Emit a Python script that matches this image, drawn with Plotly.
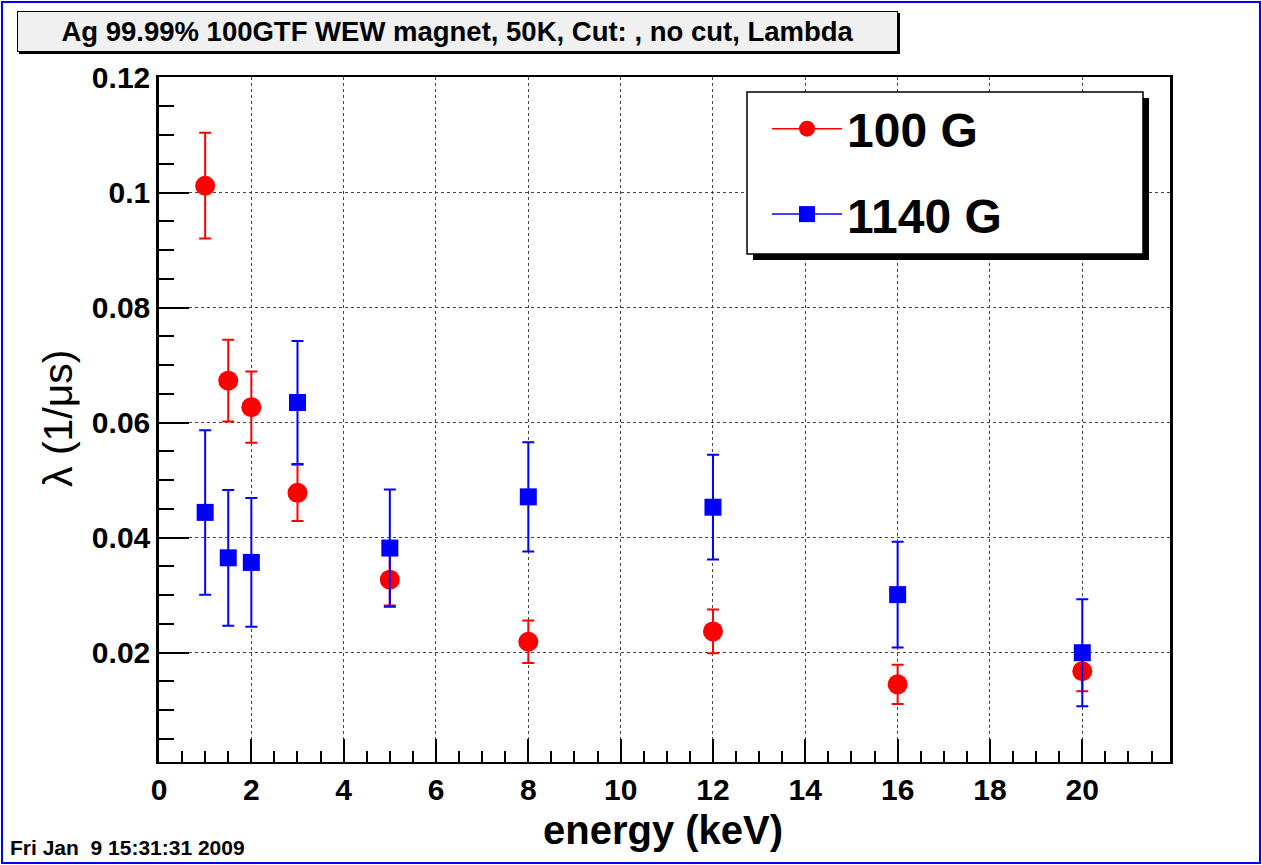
import plotly.graph_objects as go

# ---------------- data ----------------
energy = [1, 1.5, 2, 3, 5, 8, 12, 16, 20]
lam_100G = [0.1012, 0.0673, 0.0627, 0.0478, 0.0327, 0.0219, 0.0237, 0.0145, 0.0168]
err_100G = [0.0092, 0.0071, 0.0062, 0.0049, 0.0045, 0.0037, 0.0038, 0.0034, 0.0035]
lam_1140G = [0.0444, 0.0365, 0.0357, 0.0635, 0.0382, 0.0471, 0.0453, 0.0301, 0.0200]
err_1140G = [0.0143, 0.0118, 0.0112, 0.0107, 0.0102, 0.0095, 0.0091, 0.0092, 0.0093]

series_names = ["100 G", "1140 G"]
series_colors = ["#ff0000", "#0000ff"]

x_ticks = [0, 2, 4, 6, 8, 10, 12, 14, 16, 18, 20]
y_ticks = [0.02, 0.04, 0.06, 0.08, 0.1, 0.12]
y_ticklabels = ["0.02", "0.04", "0.06", "0.08", "0.1", "0.12"]

title_text = "Ag 99.99% 100GTF WEW magnet, 50K, Cut: , no cut, Lambda"
date_text = "Fri Jan&nbsp; 9 15:31:31 2009"

# ---------------- layout geometry ----------------
W, H = 1262, 865
L, R, T, B = 159, 92, 77, 103
PW, PH = W - L - R, H - T - B


def px(x):
    return (x - L) / PW


def py(y):
    return 1 - (y - T) / PH


FONT = "Liberation Sans, Arial, Helvetica, sans-serif"

fig = go.Figure()

# data traces (markers + error bars)
fig.add_trace(go.Scatter(
    x=energy, y=lam_100G, mode="markers", name=series_names[0], showlegend=False,
    marker=dict(symbol="circle", size=20, color=series_colors[0]),
    error_y=dict(type="data", array=err_100G, visible=True,
                 color=series_colors[0], thickness=2, width=6),
))
fig.add_trace(go.Scatter(
    x=energy, y=lam_1140G, mode="markers", name=series_names[1], showlegend=False,
    marker=dict(symbol="square", size=17, color=series_colors[1]),
    error_y=dict(type="data", array=err_1140G, visible=True,
                 color=series_colors[1], thickness=2, width=6),
))
# legend entries (line + marker symbol, like the ROOT "lp" legend)
for name, col, sym, grp in zip(series_names, series_colors, ["circle", "square"], ["a", "b"]):
    fig.add_trace(go.Scatter(
        x=[None], y=[None], mode="lines+markers", name=name, legendgroup=grp,
        line=dict(color=col, width=1.5),
        marker=dict(symbol=sym, size=20, color=col),
    ))

shapes = [
    # outer canvas border
    dict(type="rect", xref="paper", yref="paper",
         x0=px(2), x1=px(1260), y0=py(2), y1=py(863),
         line=dict(color="#0000ff", width=2), fillcolor="rgba(0,0,0,0)", layer="above"),
    # title shadow
    dict(type="rect", xref="paper", yref="paper",
         x0=px(19), x1=px(900), y0=py(13), y1=py(54),
         line=dict(width=0), fillcolor="black", layer="above"),
    # legend shadow
    dict(type="rect", xref="paper", yref="paper",
         x0=px(753), x1=px(1149), y0=py(98), y1=py(260),
         line=dict(width=0), fillcolor="black", layer="above"),
    # legend box
    dict(type="rect", xref="paper", yref="paper",
         x0=px(747), x1=px(1143), y0=py(92), y1=py(254),
         line=dict(color="black", width=1.5), fillcolor="white", layer="above"),
]

annotations = [
    dict(text="<b>" + title_text + "</b>", xref="paper", yref="paper",
         x=px(457), y=py(31), xanchor="center", yanchor="middle", showarrow=False,
         font=dict(family=FONT, size=27.5, color="black"),
         bgcolor="#f0f0f0", bordercolor="black", borderwidth=1, borderpad=0,
         width=879, height=39),
    dict(text="<b>" + date_text + "</b>", xref="paper", yref="paper",
         x=px(8), y=py(848), xanchor="left", yanchor="middle", showarrow=False,
         font=dict(family=FONT, size=21, color="black")),
    dict(text="<b>energy (keV)</b>", xref="paper", yref="paper",
         x=px(663), y=py(830), xanchor="center", yanchor="middle", showarrow=False,
         font=dict(family=FONT, size=40, color="black")),
    dict(text="λ (1/μs)", xref="paper", yref="paper", textangle=-90,
         x=px(58), y=py(418), xanchor="center", yanchor="middle", showarrow=False,
         font=dict(family=FONT, size=41, color="black")),
]

fig.update_layout(
    width=W, height=H, autosize=False,
    margin=dict(l=L, r=R, t=T, b=B, pad=0),
    paper_bgcolor="white", plot_bgcolor="white",
    font=dict(family=FONT, color="black"),
    showlegend=True,
    legend=dict(x=px(767), y=py(91), xanchor="left", yanchor="top",
                bgcolor="rgba(0,0,0,0)", borderwidth=0,
                font=dict(family=FONT, size=48, color="black", weight="bold"),
                tracegroupgap=20, itemsizing="trace", itemwidth=70),
    shapes=shapes,
    annotations=annotations,
)

fig.update_xaxes(
    range=[0, 21.9], tickvals=x_ticks, ticktext=[str(v) for v in x_ticks],
    ticks="inside", ticklen=23, tickwidth=1.5, tickcolor="black",
    showline=True, linecolor="black", linewidth=2, mirror=True,
    showgrid=True, gridcolor="#444444", griddash="dot", gridwidth=1,
    zeroline=False,
    tickfont=dict(family=FONT, size=30, color="black", weight="bold"),
    minor=dict(dtick=0.5, tick0=0, ticks="inside", ticklen=11, tickwidth=1.5,
               tickcolor="black", showgrid=False),
)
fig.update_yaxes(
    range=[0.001, 0.1201], tickvals=y_ticks, ticktext=y_ticklabels,
    ticks="inside", ticklen=30, tickwidth=1.5, tickcolor="black",
    showline=True, linecolor="black", linewidth=2.5, mirror=True,
    showgrid=True, gridcolor="#444444", griddash="dot", gridwidth=1,
    zeroline=False,
    tickfont=dict(family=FONT, size=30, color="black", weight="bold"),
    minor=dict(dtick=0.005, tick0=0, ticks="inside", ticklen=15, tickwidth=1.5,
               tickcolor="black", showgrid=False),
)

fig.write_html("out.html")
